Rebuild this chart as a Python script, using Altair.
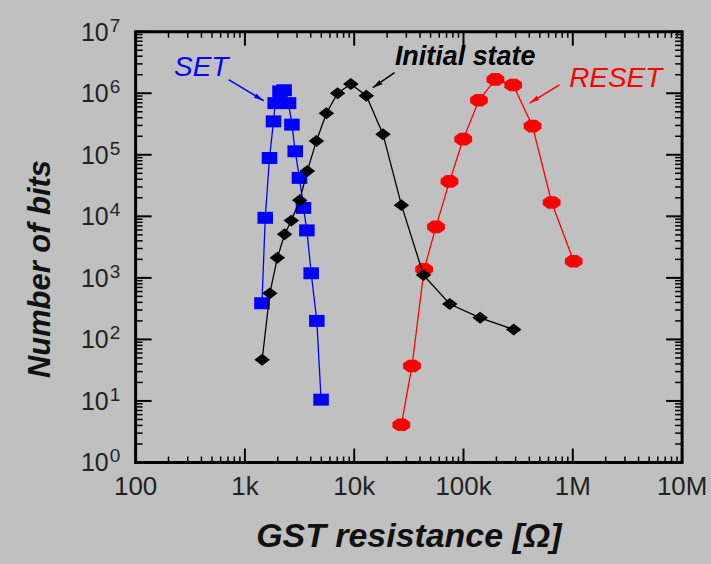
import math
import altair as alt
import pandas as pd

# ---- resistance distributions (ohm, number of bits) ----------------------
set_r = [1432, 1535, 1679, 1827, 1893, 2095, 2284, 2508, 2692, 2885, 3157,
         3435, 3690, 4040, 4550, 4977]
set_n = [387, 9460, 88700, 349000, 691000, 1.07e6, 1.12e6, 691000, 309000,
         114000, 42100, 13700, 5910, 1188, 200, 10.5]

init_r = [1438, 1690, 1980, 2308, 2660, 3173, 3725, 4510, 5565, 7050, 9310,
          12900, 18330, 27050, 43100, 74900, 142000, 288000]
init_n = [46.8, 560, 2115, 5110, 8520, 18300, 54700, 168000, 473000, 1.0e6,
          1.41e6, 914000, 216000, 15200, 1110, 376, 224, 145]

reset_r = [27000, 33800, 43600, 56000, 74500, 99500, 138500, 196000, 285000,
           428000, 641000, 1.02e6]
reset_n = [4.1, 37, 1370, 6750, 37000, 180000, 770000, 1.68e6, 1.36e6,
           292000, 16800, 1860]

# axis tick labels
x_tick_vals = [100.0, 1e3, 1e4, 1e5, 1e6, 1e7]
x_tick_text = ["100", "1k", "10k", "100k", "1M", "10M"]
y_exponents = [0, 1, 2, 3, 4, 5, 6, 7]

# annotation labels and their arrows (tail -> head, in data units)
note_text = ["SET", "Initial state", "RESET"]
note_r = [398, 103600, 2.47e6]
note_n = [1.94e6, 2.93e6, 1.24e6]
arrow_r0 = [709, 23400, 755000]
arrow_n0 = [1.66e6, 2.16e6, 1.37e6]
arrow_r1 = [1483, 14790, 402000]
arrow_n1 = [755000, 1.23e6, 692000]

BLUE, RED, BLACK = "#0000ff", "#ff0000", "#000000"
BG = "#c0c0c0"
FONT = "Liberation Sans"

W, H = 548, 432
LEFT, TOP, RIGHT, BOTTOM = 135, 30, 28, 102
X_DOM, Y_DOM = [100.0, 1e7], [1.0, 1e7]
xs = alt.Scale(type="log", domain=X_DOM, nice=False)
ys = alt.Scale(type="log", domain=Y_DOM, nice=False)


def X(f):
    return alt.X(f"{f}:Q", scale=xs, axis=None)


def Y(f):
    return alt.Y(f"{f}:Q", scale=ys, axis=None)


# marker outlines (slightly wide, like the original plotting program)
SQUARE = "M-1.3,-1L1.3,-1L1.3,1L-1.3,1Z"
DIAMOND = "M-1.3,0L0,-1L1.3,0L0,1Z"
_oct = []
for k in range(8):
    a = math.radians(22.5 + 45 * k)
    _oct.append(f"{1.4 * math.cos(a):.3f},{math.sin(a):.3f}")
OCTAGON = "M" + "L".join(_oct) + "Z"
HEAD = "M0,0L0.55,2.2L-0.55,2.2Z"


def series(r, n, color, shape, size):
    df = pd.DataFrame({"r": [float(v) for v in r], "n": [float(v) for v in n]})
    line = alt.Chart(df).mark_line(color=color, strokeWidth=1.3).encode(
        x=X("r"), y=Y("n"))
    pts = alt.Chart(df).mark_point(shape=shape, size=size, filled=True,
                                   color=color, opacity=1, strokeWidth=0
                                   ).encode(x=X("r"), y=Y("n"))
    return [line, pts]


# ---- inward ticks on all four sides (stroked one-segment symbols) --------
x_major = [float(10 ** d) for d in range(2, 8)]
x_minor = [float(k * 10 ** d) for d in range(2, 7) for k in range(2, 10)]
y_major = [float(10 ** d) for d in range(0, 8)]
y_minor = [float(k * 10 ** d) for d in range(0, 7) for k in range(2, 10)]


def tick_layer(vals, side, length, width):
    path = {"bottom": "M0,0L0,-1", "top": "M0,0L0,1",
            "left": "M0,0L1,0", "right": "M0,0L-1,0"}[side]
    mark = alt.Chart(pd.DataFrame({"v": vals})).mark_point(
        shape=path, size=(2 * length) ** 2, filled=False, color="black",
        strokeWidth=width, opacity=1)
    if side in ("bottom", "top"):
        return mark.encode(x=X("v"), y=alt.value(H if side == "bottom" else 0))
    return mark.encode(y=Y("v"), x=alt.value(0 if side == "left" else W))


ticks = [
    tick_layer(x_major, "bottom", 14, 2),
    tick_layer(x_minor, "bottom", 6, 1.5),
    tick_layer(x_major, "top", 14, 2),
    tick_layer(x_minor, "top", 6, 1.5),
    tick_layer(y_major, "left", 16, 2),
    tick_layer(y_minor, "left", 7, 1.5),
    tick_layer(y_major, "right", 16, 2),
    tick_layer(y_minor, "right", 7, 1.5),
]

# ---- tick labels ----------------------------------------------------------
xlab = alt.Chart(pd.DataFrame({"v": x_tick_vals, "t": x_tick_text})).mark_text(
    font=FONT, fontSize=26, align="center", baseline="alphabetic", color="#222"
).encode(x=X("v"), y=alt.value(H + 33), text="t:N")

ydf = pd.DataFrame({"v": [10.0 ** e for e in y_exponents],
                    "e": [str(e) for e in y_exponents],
                    "b": ["10"] * len(y_exponents)})
ylab_base = alt.Chart(ydf).mark_text(
    font=FONT, fontSize=25, align="right", baseline="alphabetic", dy=9, color="#222"
).encode(y=Y("v"), x=alt.value(-27), text="b:N")
ylab_exp = alt.Chart(ydf).mark_text(
    font=FONT, fontSize=19, align="left", baseline="alphabetic", dy=0, color="#222"
).encode(y=Y("v"), x=alt.value(-26), text="e:N")

# ---- axis titles ----------------------------------------------------------
ttl = pd.DataFrame({"a": [0]})
x_title = alt.Chart(ttl).mark_text(
    text="GST resistance [Ω]", font=FONT, fontSize=34, fontWeight="bold",
    fontStyle="italic", align="center", baseline="alphabetic", color="#111"
).encode(x=alt.value(W / 2), y=alt.value(H + 85))
y_title = alt.Chart(ttl).mark_text(
    text="Number of bits", font=FONT, fontSize=31, fontWeight="bold",
    fontStyle="italic", align="center", baseline="alphabetic", angle=270,
    color="#111"
).encode(x=alt.value(-86), y=alt.value(238))

# invisible corner anchors that fix the overall extent of the figure
corners = [
    alt.Chart(ttl).mark_point(opacity=0, size=1).encode(
        x=alt.value(-LEFT), y=alt.value(-TOP)),
    alt.Chart(ttl).mark_point(opacity=0, size=1).encode(
        x=alt.value(W + RIGHT), y=alt.value(H + BOTTOM)),
]


# ---- annotations ----------------------------------------------------------
def px(r):
    return W * (math.log10(r) - 2) / 5


def py(n):
    return H - H * math.log10(n) / 7


colors = [BLUE, BLACK, RED]
angles = []
for r0, n0, r1, n1 in zip(arrow_r0, arrow_n0, arrow_r1, arrow_n1):
    dx, dy = px(r1) - px(r0), py(n1) - py(n0)
    angles.append(math.degrees(math.atan2(dx, -dy)) % 360)

adf = pd.DataFrame({"r0": arrow_r0, "n0": arrow_n0, "r1": arrow_r1,
                    "n1": arrow_n1, "c": colors, "ang": angles})
arrow_lines = alt.Chart(adf).mark_rule(strokeWidth=1.5).encode(
    x=X("r0"), y=Y("n0"), x2="r1:Q", y2="n1:Q",
    color=alt.Color("c:N", scale=None))
arrow_heads = alt.Chart(adf).mark_point(
    shape=HEAD, size=81, filled=True, opacity=1, strokeWidth=0
).encode(x=X("r1"), y=Y("n1"), color=alt.Color("c:N", scale=None),
         angle=alt.Angle("ang:Q", scale=None))

ndf = pd.DataFrame({"r": note_r, "n": note_n, "t": note_text, "c": colors,
                    "w": ["normal", "bold", "normal"]})
notes_plain = alt.Chart(ndf[ndf.w == "normal"]).mark_text(
    font=FONT, fontSize=28, fontStyle="italic", align="center",
    baseline="alphabetic"
).encode(x=X("r"), y=Y("n"), text="t:N", color=alt.Color("c:N", scale=None))
notes_bold = alt.Chart(ndf[ndf.w == "bold"]).mark_text(
    font=FONT, fontSize=27, fontStyle="italic", fontWeight="bold",
    align="center", baseline="alphabetic"
).encode(x=X("r"), y=Y("n"), text="t:N", color=alt.Color("c:N", scale=None))

layers = (
    ticks
    + series(set_r, set_n, BLUE, SQUARE, 144)
    + series(reset_r, reset_n, RED, OCTAGON, 189)
    + series(init_r, init_n, BLACK, DIAMOND, 144)
    + [arrow_lines, arrow_heads, notes_plain, notes_bold,
       xlab, ylab_base, ylab_exp, x_title, y_title]
    + corners
)

chart = alt.layer(*layers).properties(
    width=W, height=H, background=BG,
    autosize=alt.AutoSizeParams(type="pad"),
    padding=0,
).configure_view(stroke=BLACK, strokeWidth=3, fill=BG)

chart.save("out.html", embed_options={"renderer": "svg", "actions": False})
